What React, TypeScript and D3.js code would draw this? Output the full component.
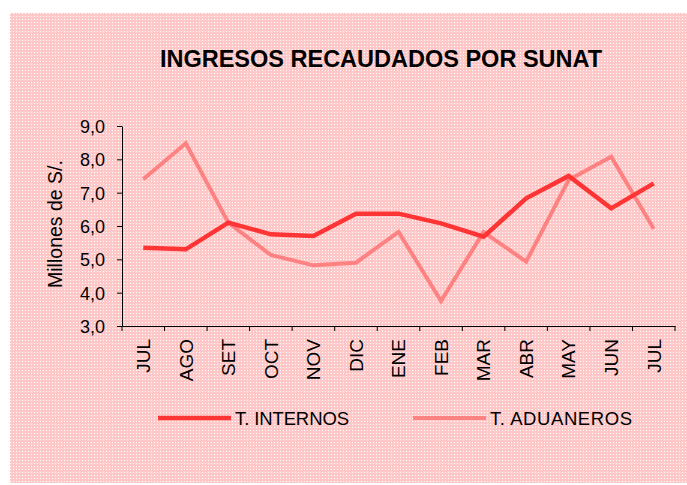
import { useEffect, useRef } from "react";
import * as d3 from "d3";

const months = ["JUL", "AGO", "SET", "OCT", "NOV", "DIC", "ENE", "FEB", "MAR", "ABR", "MAY", "JUN", "JUL "];
const internos = [5.35, 5.3, 6.1, 5.75, 5.7, 6.37, 6.37, 6.08, 5.68, 6.83, 7.5, 6.53, 7.28];
const aduaneros = [7.4, 8.48, 6.1, 5.13, 4.82, 4.9, 5.82, 3.75, 5.82, 4.93, 7.38, 8.08, 5.92];
const yTicks = [3, 4, 5, 6, 7, 8, 9];

const seriesNames = ["T. INTERNOS", "T. ADUANEROS"];
const seriesColors = ["#ff3434", "#ff8282"];

export default function App() {
  const svgRef = useRef<SVGSVGElement>(null);

  useEffect(() => {
    if (!svgRef.current) return;
    const svg = d3.select(svgRef.current);
    const width = 687;
    const height = 485;
    const margin = { top: 126, right: 12, bottom: 159, left: 122 };

    svg.selectAll("*").remove();
    svg.attr("width", width).attr("height", height);

    // dotted pink background
    const pat = svg
      .append("defs")
      .append("pattern")
      .attr("id", "dots")
      .attr("width", 3)
      .attr("height", 3)
      .attr("patternUnits", "userSpaceOnUse");
    pat.append("rect").attr("width", 3).attr("height", 3).attr("fill", "#ffc8c8");
    pat.append("rect").attr("x", 1).attr("y", 1).attr("width", 1).attr("height", 1).attr("fill", "#ffffff");

    svg
      .append("rect")
      .attr("x", 10)
      .attr("y", 13)
      .attr("width", 677)
      .attr("height", 470)
      .attr("fill", "url(#dots)");

    const font = "'Liberation Sans', Arial, sans-serif";

    svg
      .append("text")
      .attr("x", 381)
      .attr("y", 67)
      .attr("text-anchor", "middle")
      .attr("font-family", font)
      .attr("font-weight", "bold")
      .attr("font-size", 23.5)
      .attr("fill", "#000")
      .text("INGRESOS RECAUDADOS POR SUNAT");

    const x = d3
      .scaleBand()
      .domain(months)
      .range([margin.left, width - margin.right]);

    const y = d3
      .scaleLinear()
      .domain([3, 9])
      .range([height - margin.bottom, margin.top]);

    const yAxis = svg
      .append("g")
      .attr("transform", `translate(${margin.left},0)`)
      .call(d3.axisLeft(y).tickValues(yTicks).tickSize(5).tickSizeOuter(0).tickFormat((d) => d3.format(".1f")(d as number).replace(".", ",")));
    yAxis.select(".domain").attr("stroke", "#000");
    yAxis.selectAll("line").attr("stroke", "#000");
    yAxis
      .selectAll("text")
      .attr("font-family", font)
      .attr("font-size", 18)
      .attr("fill", "#000")
      .attr("x", -17)
      .attr("dy", "0.36em");

    const xAxis = svg
      .append("g")
      .attr("transform", `translate(0,${height - margin.bottom})`)
      .call(d3.axisBottom(x).tickSize(0).tickSizeOuter(0));
    xAxis.select(".domain").attr("stroke", "#000");
    xAxis
      .selectAll("text")
      .attr("font-family", font)
      .attr("font-size", 19)
      .attr("fill", "#000")
      .attr("text-anchor", "end")
      .attr("transform", "rotate(-90)")
      .attr("x", -13)
      .attr("y", 0)
      .attr("dy", "0.36em");

    // tick marks between categories
    const bounds = d3.range(months.length + 1).map((i) => margin.left + i * x.step());
    svg
      .append("g")
      .selectAll("line")
      .data(bounds)
      .enter()
      .append("line")
      .attr("x1", (d) => d)
      .attr("x2", (d) => d)
      .attr("y1", height - margin.bottom)
      .attr("y2", height - margin.bottom + 5)
      .attr("stroke", "#000");

    svg
      .append("text")
      .attr("transform", `translate(62,${(margin.top + height - margin.bottom) / 2 - 2}) rotate(-90)`)
      .attr("text-anchor", "middle")
      .attr("font-family", font)
      .attr("font-size", 19.5)
      .attr("fill", "#000")
      .text("Millones de S/.");

    const line = d3
      .line<number>()
      .x((_, i) => (x(months[i]) as number) + x.bandwidth() / 2)
      .y((d) => y(d));

    [aduaneros, internos].forEach((vals, k) => {
      const idx = k === 0 ? 1 : 0;
      svg
        .append("path")
        .datum(vals)
        .attr("d", line)
        .attr("fill", "none")
        .attr("stroke", seriesColors[idx])
        .attr("stroke-width", idx === 0 ? 4.5 : 4)
        .attr("stroke-linejoin", "miter");
    });

    // legend
    const legendX = [158, 413];
    const legendLen = [114, 142];
    seriesNames.forEach((name, i) => {
      svg
        .append("line")
        .attr("x1", legendX[i])
        .attr("x2", legendX[i] + 73)
        .attr("y1", 418)
        .attr("y2", 418)
        .attr("stroke", seriesColors[i])
        .attr("stroke-width", i === 0 ? 4.5 : 4);
      svg
        .append("text")
        .attr("x", legendX[i] + 77)
        .attr("y", 424.5)
        .attr("font-family", font)
        .attr("font-size", 18.5)
        .attr("fill", "#000")
        .attr("textLength", legendLen[i])
        .attr("lengthAdjust", "spacing")
        .text(name);
    });
  }, []);

  return (
    <div style={{ position: "absolute", left: 0, top: 0, width: 687, height: 485, background: "#fff" }}>
      <svg ref={svgRef} style={{ display: "block" }} />
    </div>
  );
}
